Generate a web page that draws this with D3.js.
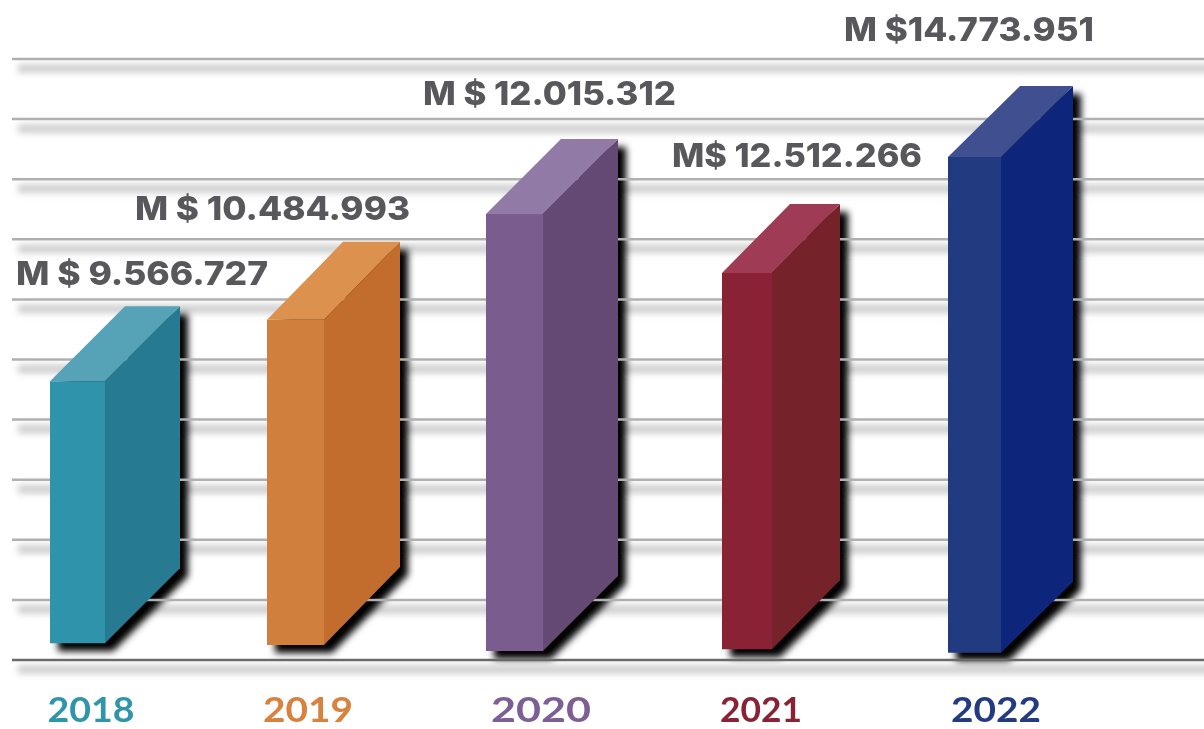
<!DOCTYPE html>
<html><head><meta charset="utf-8">
<script src="https://cdn.jsdelivr.net/npm/d3@7"></script>
<style>html,body{margin:0;padding:0;background:#fff}svg{display:block}text{font-family:Inter,"Open Sans",sans-serif}</style>
</head><body><div id="c"></div>
<script>
// Data (bar ends are in gridline units, 0 = bottom line, 10 = top line)
const years = ["2018","2019","2020","2021","2022"];
const valueLabels = ["M $ 9.566.727","M $ 10.484.993","M $ 12.015.312","M$ 12.512.266","M $14.773.951"];
const barTops = [4.64,5.66,7.42,6.44,8.37];
const barBases = [0.28,0.25,0.15,0.18,0.12];
const gridTicks = d3.range(0,11);

// Layout and style
const frontFaceLeft = [50,267,486,722,948];
const frontFaceWidth = [55,57,57,50,53];
const depthX = [75,76,75,68,72];
const depthY = [75,78,75,69,71];
const labelLeft = [16,135,423,672,844];
const labelWidth = [252,275,253,250,250];
const labelBaseline = [285,220,105,167,41];
const yearCenter = [91,308,541,761,996];
const yearWidth = [87,90,100,82,90];
const frontColors = ["#2d93ab","#d07f3e","#7a5c8f","#8a2336","#233a80"];
const sideColors = ["#277a91","#c26c2d","#634873","#74212c","#10287c"];
const topColors = ["#56a3b8","#dc914f","#917aa5","#a03a55","#3f4f8f"];
const yearColors = ["#2f95ab","#d9823f","#7d5f95","#8a2336","#223a82"];

const W=1204,H=729;
const y=d3.scaleLinear().domain([0,10]).range([660,59]);
const ord=r=>d3.scaleOrdinal(years,r);
const x=ord(frontFaceLeft),w=ord(frontFaceWidth),dx=ord(depthX),dy=ord(depthY),
  lx=ord(labelLeft),lw=ord(labelWidth),ly=ord(labelBaseline),yc=ord(yearCenter),yw=ord(yearWidth),
  fc=ord(frontColors),sc=ord(sideColors),tc=ord(topColors),yrc=ord(yearColors);
const rows=years.map((yr,i)=>({yr,label:valueLabels[i],top:barTops[i],base:barBases[i]}));

const svg=d3.select("#c").append("svg").attr("width",W).attr("height",H).attr("viewBox",[0,0,W,H]);
const defs=svg.append("defs");
defs.append("filter").attr("id","gs").attr("x","-5%").attr("width","110%").attr("y","-300%").attr("height","700%")
  .append("feGaussianBlur").attr("stdDeviation",3);
defs.append("filter").attr("id","bs").attr("x","-30%").attr("width","160%").attr("y","-20%").attr("height","140%")
  .append("feGaussianBlur").attr("stdDeviation",3.6);
defs.append("filter").attr("id","soft").append("feGaussianBlur").attr("stdDeviation",0.7);

const root=svg.append("g").attr("filter","url(#soft)");

// Gridline shadows
root.append("g").selectAll("rect").data(gridTicks).join("rect")
  .attr("x",18).attr("width",W).attr("y",d=>y(d)+5).attr("height",9)
  .attr("fill","#d0d0d0").attr("filter","url(#gs)");

const outline=d=>{
  const l=x(d.yr),fw=w(d.yr),kx=dx(d.yr),ky=dy(d.yr),t=y(d.top),b=y(d.base),r=l+fw;
  return [[l,t],[l+kx,t-ky],[r+kx,t-ky],[r+kx,b-ky],[r,b],[l,b]];
};
const line=d3.line();
// Bar shadows
root.append("g").selectAll("path").data(rows).join("path")
  .attr("d",d=>line(outline(d).map(([a,b])=>[a+8,b+8]))+"Z")
  .attr("fill","#000").attr("filter","url(#bs)");

// Gridlines
root.append("g").selectAll("line").data(gridTicks).join("line")
  .attr("x1",12).attr("x2",W).attr("y1",d=>y(d)).attr("y2",d=>y(d))
  .attr("stroke",d=>d===0?"#6a6a6a":"#b0b0b0").attr("stroke-width",2.5);

// Bars
const bars=root.append("g").selectAll("g").data(rows).join("g");
bars.append("path").attr("fill",d=>fc(d.yr))
  .attr("d",d=>line([[x(d.yr),y(d.top)],[x(d.yr)+w(d.yr),y(d.top)],[x(d.yr)+w(d.yr),y(d.base)],[x(d.yr),y(d.base)]])+"Z");
bars.append("path").attr("fill",d=>sc(d.yr))
  .attr("d",d=>{const r=x(d.yr)+w(d.yr),kx=dx(d.yr),ky=dy(d.yr),t=y(d.top),b=y(d.base);
    return line([[r,t],[r+kx,t-ky],[r+kx,b-ky],[r,b]])+"Z";});
bars.append("path").attr("fill",d=>tc(d.yr))
  .attr("d",d=>{const l=x(d.yr),r=l+w(d.yr),kx=dx(d.yr),ky=dy(d.yr),t=y(d.top);
    return line([[l,t],[l+kx,t-ky],[r+kx,t-ky],[r,t]])+"Z";});

// Value labels
root.append("g").selectAll("text").data(rows).join("text")
  .attr("x",d=>lx(d.yr)).attr("y",d=>ly(d.yr)).text(d=>d.label)
  .attr("font-size",33).attr("font-weight",800).attr("fill","#58595b")
  .attr("textLength",d=>lw(d.yr)).attr("lengthAdjust","spacingAndGlyphs");

// Year labels
root.append("g").selectAll("text").data(rows).join("text")
  .attr("x",d=>yc(d.yr)-yw(d.yr)/2).attr("y",721.5).text(d=>d.yr)
  .attr("font-size",34).attr("font-weight",700).attr("fill",d=>yrc(d.yr))
  .style("font-family","Lato,Inter,sans-serif")
  .attr("textLength",d=>yw(d.yr)).attr("lengthAdjust","spacingAndGlyphs");
</script></body></html>
